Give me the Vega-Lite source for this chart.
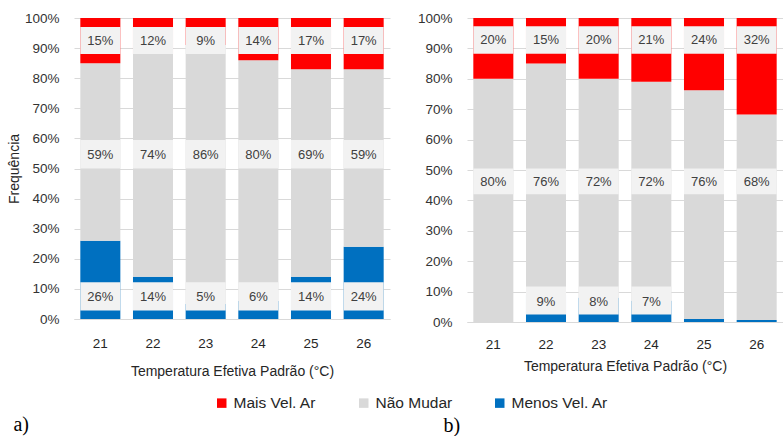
{
  "$schema": "https://vega.github.io/schema/vega-lite/v6.json",
  "padding": {"left": 7, "top": 11, "right": 0, "bottom": 0},
  "background": "white",
  "datasets": {
    "a": [
      {"t": "21", "s": "Menos Vel. Ar", "v": 0.26}, {"t": "21", "s": "Não Mudar", "v": 0.59}, {"t": "21", "s": "Mais Vel. Ar", "v": 0.15},
      {"t": "22", "s": "Menos Vel. Ar", "v": 0.14}, {"t": "22", "s": "Não Mudar", "v": 0.74}, {"t": "22", "s": "Mais Vel. Ar", "v": 0.12},
      {"t": "23", "s": "Menos Vel. Ar", "v": 0.05}, {"t": "23", "s": "Não Mudar", "v": 0.86}, {"t": "23", "s": "Mais Vel. Ar", "v": 0.09},
      {"t": "24", "s": "Menos Vel. Ar", "v": 0.06}, {"t": "24", "s": "Não Mudar", "v": 0.80}, {"t": "24", "s": "Mais Vel. Ar", "v": 0.14},
      {"t": "25", "s": "Menos Vel. Ar", "v": 0.14}, {"t": "25", "s": "Não Mudar", "v": 0.69}, {"t": "25", "s": "Mais Vel. Ar", "v": 0.17},
      {"t": "26", "s": "Menos Vel. Ar", "v": 0.24}, {"t": "26", "s": "Não Mudar", "v": 0.59}, {"t": "26", "s": "Mais Vel. Ar", "v": 0.17}
    ],
    "b": [
      {"t": "21", "s": "Menos Vel. Ar", "v": 0.0}, {"t": "21", "s": "Não Mudar", "v": 0.80}, {"t": "21", "s": "Mais Vel. Ar", "v": 0.20},
      {"t": "22", "s": "Menos Vel. Ar", "v": 0.09}, {"t": "22", "s": "Não Mudar", "v": 0.76}, {"t": "22", "s": "Mais Vel. Ar", "v": 0.15},
      {"t": "23", "s": "Menos Vel. Ar", "v": 0.08}, {"t": "23", "s": "Não Mudar", "v": 0.72}, {"t": "23", "s": "Mais Vel. Ar", "v": 0.20},
      {"t": "24", "s": "Menos Vel. Ar", "v": 0.07}, {"t": "24", "s": "Não Mudar", "v": 0.72}, {"t": "24", "s": "Mais Vel. Ar", "v": 0.21},
      {"t": "25", "s": "Menos Vel. Ar", "v": 0.01}, {"t": "25", "s": "Não Mudar", "v": 0.76}, {"t": "25", "s": "Mais Vel. Ar", "v": 0.24},
      {"t": "26", "s": "Menos Vel. Ar", "v": 0.007}, {"t": "26", "s": "Não Mudar", "v": 0.68}, {"t": "26", "s": "Mais Vel. Ar", "v": 0.32}
    ]
  },
  "spacing": 27,
  "hconcat": [
    {
      "width": 316,
      "height": 301,
      "data": {"name": "a"},
      "title": {"text": "a)", "orient": "bottom", "anchor": "start", "offset": 36, "font": "Liberation Serif", "fontSize": 20, "fontWeight": "normal", "color": "#000000", "dx": 6},
      "encoding": {
        "x": {"field": "t", "type": "ordinal", "scale": {"paddingInner": 0.24, "paddingOuter": 0.12},
              "axis": {"title": "Temperatura Efetiva Padrão (°C)", "titlePadding": 15, "labelPadding": 17, "labelAngle": 0}}
      },
      "layer": [
        {
          "transform": [{"calculate": "indexof(['Menos Vel. Ar','Não Mudar','Mais Vel. Ar'], datum.s)", "as": "o"}],
          "mark": {"type": "bar"},
          "encoding": {
            "y": {"field": "v", "type": "quantitative", "stack": "normalize", "title": "Frequência",
                  "axis": {"title": "Frequência", "format": ".0%", "titlePadding": 3}},
            "color": {"field": "s", "type": "nominal",
                      "scale": {"domain": ["Mais Vel. Ar", "Não Mudar", "Menos Vel. Ar"], "range": ["#FF0000", "#D9D9D9", "#0070C0"]},
                      "legend": {"orient": "none", "direction": "horizontal", "legendX": 140, "legendY": 377, "title": null}},
            "order": {"field": "o", "type": "quantitative"}
          }
        },
        {"transform": [{"filter": "datum.s === 'Mais Vel. Ar'"}], "mark": {"type": "bar", "color": "#F2F2F2"},
         "encoding": {"y": {"datum": 0.88, "type": "quantitative", "title": "Frequência"}, "y2": {"datum": 0.97}}},
        {"transform": [{"filter": "datum.s === 'Mais Vel. Ar'"}], "mark": {"type": "text", "font": "Liberation Sans", "fontSize": 13, "color": "#404040"},
         "encoding": {"y": {"datum": 0.925, "type": "quantitative", "title": "Frequência"}, "text": {"field": "v", "type": "quantitative", "format": ".0%"}}},
        {"transform": [{"filter": "datum.s === 'Não Mudar'"}], "mark": {"type": "bar", "color": "#F2F2F2"},
         "encoding": {"y": {"datum": 0.50, "type": "quantitative", "title": "Frequência"}, "y2": {"datum": 0.595}}},
        {"transform": [{"filter": "datum.s === 'Não Mudar'"}], "mark": {"type": "text", "font": "Liberation Sans", "fontSize": 13, "color": "#404040"},
         "encoding": {"y": {"datum": 0.545, "type": "quantitative", "title": "Frequência"}, "text": {"field": "v", "type": "quantitative", "format": ".0%"}}},
        {"transform": [{"filter": "datum.s === 'Menos Vel. Ar'"}], "mark": {"type": "bar", "color": "#F2F2F2"},
         "encoding": {"y": {"datum": 0.028, "type": "quantitative", "title": "Frequência"}, "y2": {"datum": 0.122}}},
        {"transform": [{"filter": "datum.s === 'Menos Vel. Ar'"}], "mark": {"type": "text", "font": "Liberation Sans", "fontSize": 13, "color": "#404040"},
         "encoding": {"y": {"datum": 0.073, "type": "quantitative", "title": "Frequência"}, "text": {"field": "v", "type": "quantitative", "format": ".0%"}}}
      ]
    },
    {
      "width": 316,
      "height": 304,
      "data": {"name": "b"},
      "title": {"text": "b)", "orient": "bottom", "anchor": "start", "offset": 42, "font": "Liberation Serif", "fontSize": 20, "fontWeight": "normal", "color": "#000000", "dx": 26},
      "encoding": {
        "x": {"field": "t", "type": "ordinal", "scale": {"paddingInner": 0.24, "paddingOuter": 0.12},
              "axis": {"title": "Temperatura Efetiva Padrão (°C)", "titlePadding": 9, "labelPadding": 15, "labelAngle": 0}}
      },
      "layer": [
        {
          "transform": [{"calculate": "indexof(['Menos Vel. Ar','Não Mudar','Mais Vel. Ar'], datum.s)", "as": "o"}],
          "mark": {"type": "bar"},
          "encoding": {
            "y": {"field": "v", "type": "quantitative", "stack": "normalize", "title": null,
                  "axis": {"title": null, "format": ".0%"}},
            "color": {"field": "s", "type": "nominal",
                      "scale": {"domain": ["Mais Vel. Ar", "Não Mudar", "Menos Vel. Ar"], "range": ["#FF0000", "#D9D9D9", "#0070C0"]},
                      "legend": {"orient": "none", "direction": "horizontal", "legendX": 140, "legendY": 377, "title": null}},
            "order": {"field": "o", "type": "quantitative"}
          }
        },
        {"transform": [{"filter": "datum.s === 'Mais Vel. Ar'"}], "mark": {"type": "bar", "color": "#F2F2F2"},
         "encoding": {"y": {"datum": 0.882, "type": "quantitative", "title": null}, "y2": {"datum": 0.973}}},
        {"transform": [{"filter": "datum.s === 'Mais Vel. Ar'"}], "mark": {"type": "text", "font": "Liberation Sans", "fontSize": 13, "color": "#404040"},
         "encoding": {"y": {"datum": 0.926, "type": "quantitative", "title": null}, "text": {"field": "v", "type": "quantitative", "format": ".0%"}}},
        {"transform": [{"filter": "datum.s === 'Não Mudar'"}], "mark": {"type": "bar", "color": "#F2F2F2"},
         "encoding": {"y": {"datum": 0.42, "type": "quantitative", "title": null}, "y2": {"datum": 0.505}}},
        {"transform": [{"filter": "datum.s === 'Não Mudar'"}], "mark": {"type": "text", "font": "Liberation Sans", "fontSize": 13, "color": "#404040"},
         "encoding": {"y": {"datum": 0.46, "type": "quantitative", "title": null}, "text": {"field": "v", "type": "quantitative", "format": ".0%"}}},
        {"transform": [{"filter": "datum.s === 'Menos Vel. Ar' && datum.v >= 0.05"}], "mark": {"type": "bar", "color": "#F2F2F2"},
         "encoding": {"y": {"datum": 0.025, "type": "quantitative", "title": null}, "y2": {"datum": 0.117}}},
        {"transform": [{"filter": "datum.s === 'Menos Vel. Ar' && datum.v >= 0.05"}], "mark": {"type": "text", "font": "Liberation Sans", "fontSize": 13, "color": "#404040"},
         "encoding": {"y": {"datum": 0.065, "type": "quantitative", "title": null}, "text": {"field": "v", "type": "quantitative", "format": ".0%"}}}
      ]
    }
  ],
  "config": {
    "view": {"stroke": null},
    "font": "Liberation Sans",
    "axis": {
      "labelFont": "Liberation Sans", "labelFontSize": 13.5, "labelColor": "#333333",
      "titleFont": "Liberation Sans", "titleFontSize": 14, "titleFontWeight": "normal", "titleColor": "#262626",
      "ticks": false, "tickSize": 0, "gridColor": "#D9D9D9", "gridWidth": 1, "domainColor": "#D9D9D9"
    },
    "axisX": {"grid": false, "domain": true, "labelColor": "#262626"},
    "axisY": {"grid": true, "domain": false, "labelPadding": 15, "tickCount": 10, "labelOverlap": false},
    "legend": {"labelFont": "Liberation Sans", "labelFontSize": 15.5, "labelColor": "#262626", "symbolType": "square", "symbolSize": 90, "symbolStrokeWidth": 0, "columnPadding": 39, "labelOffset": 4}
  }
}
